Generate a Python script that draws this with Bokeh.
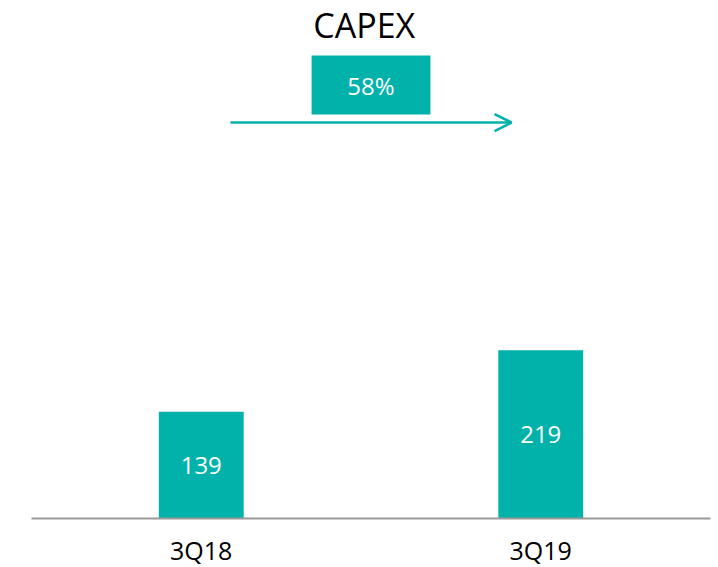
from bokeh.plotting import figure
from bokeh.models import ColumnDataSource, LabelSet, Label, Arrow, OpenHead, BoxAnnotation, Range1d
from bokeh.core.properties import value
from bokeh.embed import file_html
from bokeh.resources import INLINE

# data
categories = ["3Q18", "3Q19"]
values = [139, 219]
growth_text = "58%"
chart_title = "CAPEX"

teal = "#00B2A9"
font = "Open Sans"

src = ColumnDataSource(dict(
    cat=categories,
    val=values,
    mid=[v / 2 for v in values],
    txt=[str(v) for v in values],
))

p = figure(
    x_range=categories,
    y_range=Range1d(0, 674.5),
    frame_width=679, frame_height=518,
    min_border_left=31, min_border_right=8, min_border_top=0, min_border_bottom=0,
    y_axis_location=None,
    output_backend="svg", toolbar_location=None,
)
p.outline_line_color = None
p.xgrid.grid_line_color = None
p.ygrid.grid_line_color = None
p.background_fill_color = "white"
p.border_fill_color = "white"

p.vbar(x="cat", top="val", width=0.25, source=src, fill_color=teal, line_color=None)

labels = LabelSet(x="cat", y="mid", text="txt", source=src,
                  text_align="center", text_baseline="middle",
                  text_color="white", text_font_size="24px", text_font=value(font))
p.add_layout(labels)

ax = p.xaxis[0]
ax.axis_line_color = "#9a9a9a"
ax.axis_line_width = 2
ax.major_tick_line_color = None
ax.minor_tick_line_color = None
ax.major_label_standoff = 8
ax.major_label_text_font_size = "25px"
ax.major_label_text_color = "black"
ax.major_label_text_font = font

# growth annotation
box = BoxAnnotation(left=0.825, right=1.175, bottom=526, top=603,
                    fill_color=teal, fill_alpha=1.0, line_color=None)
p.add_layout(box)
p.add_layout(Label(x=1.0, y=564, text=growth_text, text_align="center", text_baseline="middle",
                   text_color="white", text_font_size="24px", text_font=font))
p.add_layout(Arrow(end=OpenHead(size=17, line_color=teal, line_width=2.5),
                   x_start=0.586, y_start=515.6, x_end=1.414, y_end=515.6,
                   line_color=teal, line_width=2.5))
p.add_layout(Label(x=0.98, y=643, text=chart_title, text_align="center", text_baseline="middle",
                   text_color="black", text_font_size="34px", text_font=font))

open("out.html", "w").write(file_html(p, INLINE))
